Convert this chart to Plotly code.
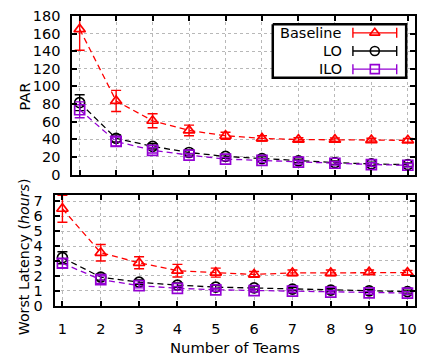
import plotly.graph_objects as go

teams = [1, 2, 3, 4, 5, 6, 7, 8, 9, 10]

par_baseline = [165, 83.5, 61, 50, 44, 41, 39.7, 39.5, 39.1, 38.8]
par_baseline_err = [24, 12, 8, 6, 4, 3, 2, 2, 2, 2]
par_lo = [81.5, 41, 32, 25, 20.5, 18, 15.5, 13.5, 12, 11.2]
par_lo_err = [9, 4, 3, 3, 2, 2, 2, 2, 2, 2]
par_ilo = [73.5, 37.5, 27.5, 22, 17.5, 16, 14, 12.8, 11.3, 10.5]
par_ilo_err = [9, 5, 3, 2, 2, 2, 2, 2, 2, 2]

lat_baseline = [6.5, 3.55, 2.88, 2.35, 2.22, 2.1, 2.2, 2.2, 2.25, 2.22]
lat_baseline_err = [0.9, 0.55, 0.4, 0.42, 0.3, 0.2, 0.2, 0.2, 0.15, 0.15]
lat_lo = [3.22, 1.92, 1.58, 1.38, 1.25, 1.2, 1.12, 1.05, 1.0, 0.95]
lat_lo_err = [0.4, 0.2, 0.15, 0.15, 0.12, 0.12, 0.1, 0.1, 0.1, 0.1]
lat_ilo = [2.85, 1.75, 1.35, 1.17, 1.07, 1.02, 0.98, 0.92, 0.87, 0.85]
lat_ilo_err = [0.3, 0.25, 0.15, 0.12, 0.1, 0.1, 0.1, 0.1, 0.1, 0.1]

series_names = ["Baseline", "LO", "ILO"]
colors = ["#ff0000", "#000000", "#9400d3"]
symbols = ["triangle-up-open", "circle-open", "square-open"]

W, H = 446, 358
FONT = "DejaVu Sans"
TICK_SIZE = 14.5
TITLE_SIZE = 14.8

fig = go.Figure()

def add_series(xs, ys, errs, i, xa, ya):
    fig.add_trace(go.Scatter(
        x=xs, y=ys, mode="lines+markers", xaxis=xa, yaxis=ya,
        line=dict(color=colors[i], width=1.3, dash="6px,4px"),
        marker=dict(symbol=symbols[i], size=10, color=colors[i],
                    line=dict(color=colors[i], width=1.7)),
        error_y=dict(type="data", array=errs, visible=True, color=colors[i],
                     thickness=1.4, width=5),
        showlegend=False, cliponaxis=True))

top = [(par_baseline, par_baseline_err), (par_lo, par_lo_err), (par_ilo, par_ilo_err)]
bot = [(lat_baseline, lat_baseline_err), (lat_lo, lat_lo_err), (lat_ilo, lat_ilo_err)]
for i in range(3):
    add_series(teams, top[i][0], top[i][1], i, "x", "y")
for i in range(3):
    add_series(teams, bot[i][0], bot[i][1], i, "x2", "y2")

# Legend drawn as its own overlay subplot (pixel coordinates)
leg_x0, leg_x1, leg_y0, leg_y1 = 274, 408, 17, 73
fig.add_trace(go.Scatter(
    x=[leg_x0, leg_x1, leg_x1, leg_x0, leg_x0],
    y=[leg_y0, leg_y0, leg_y1, leg_y1, leg_y0],
    mode="lines", fill="toself", fillcolor="white",
    line=dict(color="black", width=2.5), xaxis="x3", yaxis="y3",
    showlegend=False, hoverinfo="skip"))
leg_rows = [26, 45, 64]
for i in range(3):
    fig.add_trace(go.Scatter(
        x=[376.5], y=[leg_rows[i]], mode="markers", xaxis="x3", yaxis="y3",
        marker=dict(symbol=symbols[i], size=9, color=colors[i],
                    line=dict(color=colors[i], width=1.6)),
        error_x=dict(type="constant", value=22, color=colors[i],
                     thickness=1.4, width=5),
        showlegend=False, hoverinfo="skip"))

tickfont = dict(family=FONT, size=TICK_SIZE, color="black")
common_x = dict(range=[0.8, 10.2], tickvals=teams, ticks="inside", ticklen=5,
                tickwidth=1.5, tickcolor="black", showline=True, linecolor="black",
                linewidth=2, mirror="allticks", showgrid=True, gridcolor="#b8b8b8",
                griddash="dot", gridwidth=1, zeroline=False, tickfont=tickfont)
common_y = dict(ticks="inside", ticklen=5, tickwidth=1.5, tickcolor="black",
                showline=True, linecolor="black", linewidth=2, mirror="allticks",
                showgrid=True, gridcolor="#b8b8b8", griddash="dot", gridwidth=1,
                zeroline=False, tickfont=tickfont, ticklabelstandoff=7)

fig.update_layout(
    width=W, height=H, margin=dict(l=0, r=0, t=0, b=0),
    plot_bgcolor="rgba(0,0,0,0)", paper_bgcolor="white",
    font=dict(family=FONT, size=TICK_SIZE, color="black"),
    xaxis=dict(domain=[72.7 / W, 417 / W], anchor="y", showticklabels=False, **common_x),
    yaxis=dict(domain=[1 - 174.3 / H, 1 - 8.3 / H], anchor="x", range=[0, 180],
               tickvals=[0, 20, 40, 60, 80, 100, 120, 140, 160, 180], **common_y),
    xaxis2=dict(domain=[55 / W, 417 / W], anchor="y2", ticklabelstandoff=9, **common_x),
    yaxis2=dict(domain=[1 - 311.7 / H, 1 - 195.3 / H], anchor="x2", range=[0, 7.45],
                tickvals=[0, 1, 2, 3, 4, 5, 6, 7], **common_y),
    xaxis3=dict(domain=[0, 1], range=[0, W], visible=False, fixedrange=True, anchor="y3"),
    yaxis3=dict(domain=[0, 1], range=[H, 0], visible=False, fixedrange=True, anchor="x3"),
    annotations=[
        dict(text=n, x=346 / W, y=1 - r / H, xref="paper", yref="paper",
             xanchor="right", yanchor="middle", showarrow=False,
             font=dict(family=FONT, size=TICK_SIZE, color="black"))
        for n, r in zip(series_names, leg_rows)
    ] + [
        dict(text="PAR", x=25 / W, y=1 - 93 / H, xref="paper", yref="paper",
             textangle=-90, showarrow=False, xanchor="center", yanchor="middle",
             font=dict(family=FONT, size=TITLE_SIZE, color="black")),
        dict(text="Worst Latency (<i>hours</i>)", x=24 / W, y=1 - 260 / H,
             xref="paper", yref="paper", textangle=-90, showarrow=False,
             xanchor="center", yanchor="middle",
             font=dict(family=FONT, size=14.2, color="black")),
        dict(text="Number of Teams", x=236 / W, y=0, xref="paper",
             yref="paper", showarrow=False, xanchor="center", yanchor="bottom",
             borderpad=0, yshift=-7,
             font=dict(family=FONT, size=TITLE_SIZE, color="black")),
    ],
)

fig.write_html("out.html")
